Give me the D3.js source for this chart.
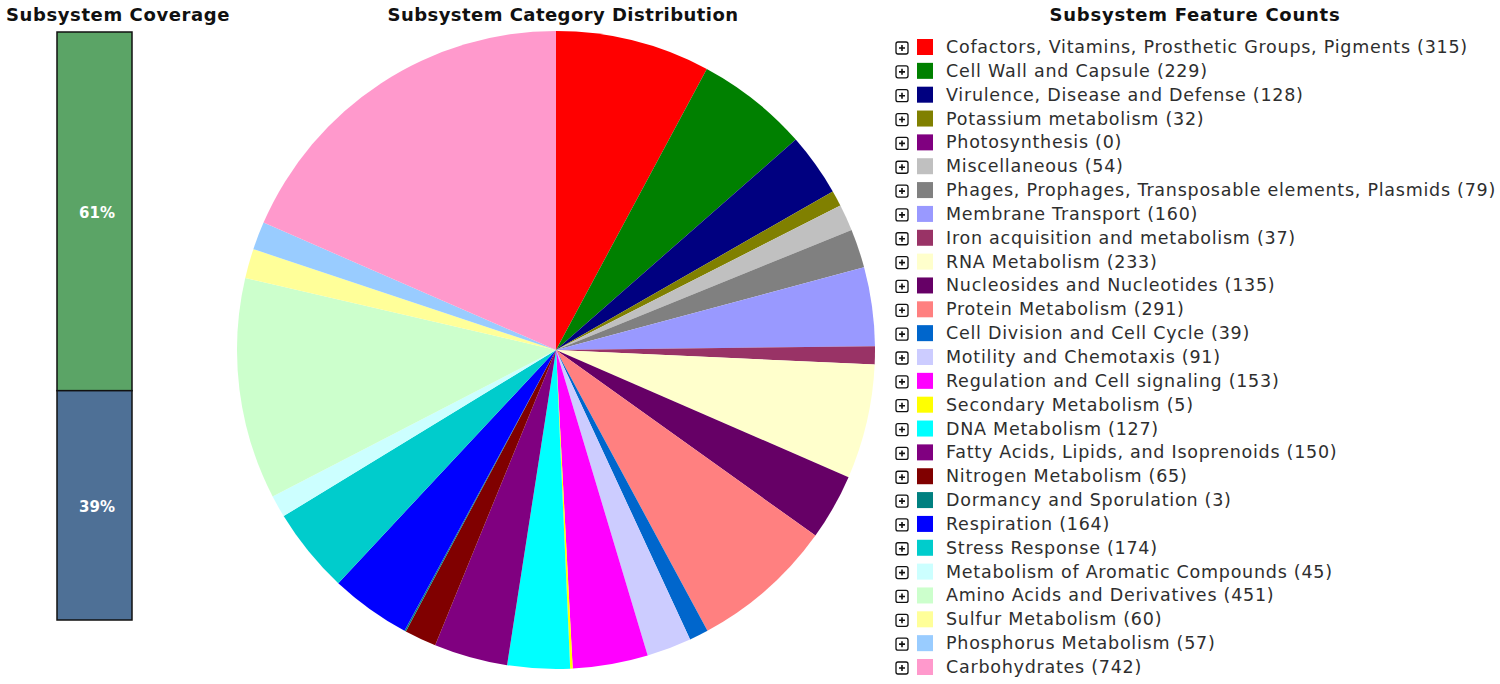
<!DOCTYPE html>
<html><head><meta charset="utf-8">
<script src="https://cdn.jsdelivr.net/npm/d3@7"></script>
<style>body{margin:0;background:#fff;}svg{display:block;}</style>
</head><body>
<svg id="c" width="1500" height="684"></svg>
<script>
const categories = ["Cofactors, Vitamins, Prosthetic Groups, Pigments","Cell Wall and Capsule","Virulence, Disease and Defense","Potassium metabolism","Photosynthesis","Miscellaneous","Phages, Prophages, Transposable elements, Plasmids","Membrane Transport","Iron acquisition and metabolism","RNA Metabolism","Nucleosides and Nucleotides","Protein Metabolism","Cell Division and Cell Cycle","Motility and Chemotaxis","Regulation and Cell signaling","Secondary Metabolism","DNA Metabolism","Fatty Acids, Lipids, and Isoprenoids","Nitrogen Metabolism","Dormancy and Sporulation","Respiration","Stress Response","Metabolism of Aromatic Compounds","Amino Acids and Derivatives","Sulfur Metabolism","Phosphorus Metabolism","Carbohydrates"];
const counts = [315,229,128,32,0,54,79,160,37,233,135,291,39,91,153,5,127,150,65,3,164,174,45,451,60,57,742];
const colors = ["#ff0000","#008000","#000080","#808000","#800080","#c0c0c0","#808080","#9999ff","#993366","#ffffcc","#660066","#ff8080","#0066cc","#ccccff","#ff00ff","#ffff00","#00ffff","#800080","#800000","#008080","#0000ff","#00cccc","#ccffff","#ccffcc","#ffff99","#99ccff","#ff99cc"];
const coverageLabels = ["61%","39%"];
const coverageValues = [61,39];
const coverageColors = ["#5ba466","#4e7096"];

const svg = d3.select("#c");
const font = "Verdana, 'DejaVu Sans', sans-serif";

// Titles
const titles = [["Subsystem Coverage",118,0.6],["Subsystem Category Distribution",563,0.45],["Subsystem Feature Counts",1195,0.75]];
svg.selectAll("text.title").data(titles).join("text")
  .attr("x",d=>d[1]).attr("y",21).attr("text-anchor","middle")
  .attr("font-family",font).attr("font-weight","bold").attr("font-size",18).attr("fill","#111")
  .attr("letter-spacing",d=>d[2])
  .text(d=>d[0]);

// Coverage bar
const y = d3.scaleLinear().domain([0,100]).range([32,620]);
let acc = 0;
const segs = coverageValues.map((v,i)=>{const s={y0:acc,y1:acc+v,label:coverageLabels[i],color:coverageColors[i]};acc+=v;return s;});
const bar = svg.append("g");
bar.selectAll("rect").data(segs).join("rect")
  .attr("x",57).attr("width",75).attr("y",d=>y(d.y0)).attr("height",d=>y(d.y1)-y(d.y0))
  .attr("fill",d=>d.color).attr("stroke","#111").attr("stroke-width",1.5);
bar.selectAll("text").data(segs).join("text")
  .attr("x",97).attr("y",d=>(y(d.y0)+y(d.y1))/2+7).attr("text-anchor","middle")
  .attr("font-family",font).attr("font-weight","bold").attr("font-size",15).attr("fill","#fff")
  .text(d=>d.label);

// Pie
const pie = d3.pie().sort(null).value(d=>d)(counts);
const arc = d3.arc().innerRadius(0).outerRadius(319);
svg.append("g").attr("transform","translate(556,350)")
  .selectAll("path").data(pie).join("path")
  .attr("d",arc).attr("fill",(d,i)=>colors[i]);

// Legend
const ly = d3.scaleLinear().domain([0,categories.length-1]).range([46,666]);
const lg = svg.append("g");
const rows = lg.selectAll("g").data(categories).join("g")
  .attr("transform",(d,i)=>`translate(0,${ly(i)})`);
rows.append("rect").attr("x",896).attr("y",-4).attr("width",12).attr("height",12).attr("rx",2)
  .attr("fill","#fff").attr("stroke","#111").attr("stroke-width",1.3);
rows.append("path").attr("d","M899,2H905M902,-1V5").attr("stroke","#111").attr("stroke-width",1.6);
rows.append("rect").attr("x",917).attr("y",-7).attr("width",16).attr("height",16).attr("fill",(d,i)=>colors[i]);
rows.append("text").attr("x",946).attr("y",7).attr("font-family",font).attr("font-size",17.5)
  .attr("letter-spacing",0.75).attr("fill","#2e2e2e")
  .text((d,i)=>`${d} (${counts[i]})`);
</script>
</body></html>
